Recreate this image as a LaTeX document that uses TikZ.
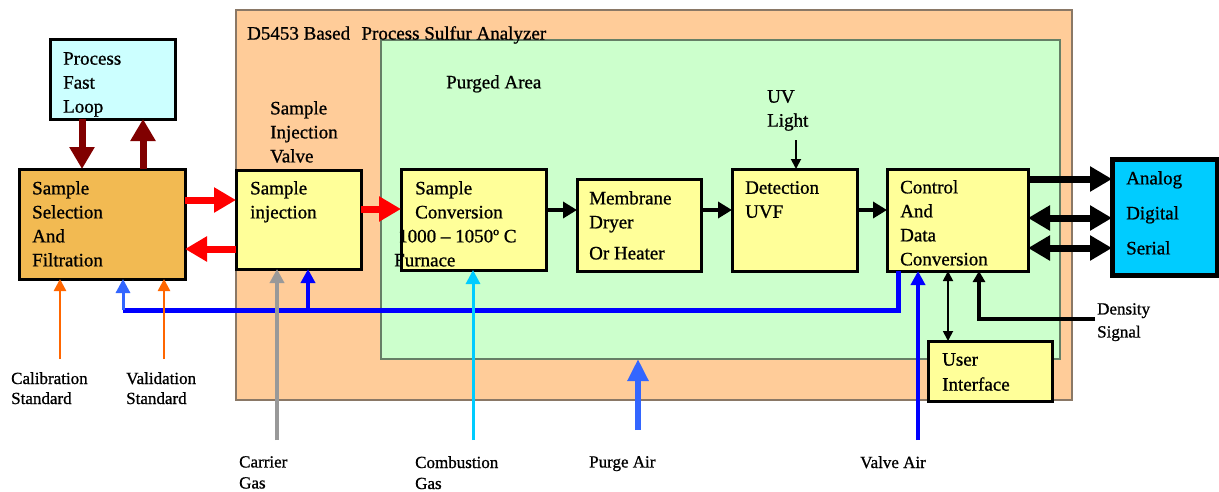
\documentclass[tikz,border=0pt]{standalone}
\usepackage{fontspec}
\setmainfont{Liberation Serif}[FakeBold=0.9]
\usetikzlibrary{arrows.meta}

\definecolor{analyzerbg}{HTML}{FFCC99}
\definecolor{analyzerline}{HTML}{8A7866}
\definecolor{purgebg}{HTML}{CCFFCC}
\definecolor{purgeline}{HTML}{667F66}
\definecolor{loopfill}{HTML}{CCFFFF}
\definecolor{selfill}{HTML}{F2BA52}
\definecolor{unitfill}{HTML}{FFFF99}
\definecolor{iofill}{HTML}{00CCFF}
\definecolor{darkred}{HTML}{800000}
\definecolor{calorange}{HTML}{FF6600}
\definecolor{lightblue}{HTML}{3366FF}
\definecolor{carriergray}{HTML}{999999}
\definecolor{combcyan}{HTML}{00CCFF}

\begin{document}
\begin{tikzpicture}[x=1pt,y=-1pt,
  box/.style={draw=black, line width=3pt, inner sep=0pt, outer sep=0pt, anchor=north west},
  txt/.style={anchor=north west, inner sep=0pt, align=left, font=\fontsize{19}{24}\selectfont},
  smalltxt/.style={anchor=north west, inner sep=0pt, align=left, font=\fontsize{17}{20}\selectfont},
  loopflow/.style={draw=darkred, line width=7pt, -{Triangle[length=22pt,width=24pt]}},
  sampleflow/.style={draw=red, line width=7pt, -{Triangle[length=22pt,width=24pt]}},
  gasflow/.style={draw=black, line width=4pt, -{Triangle[length=14pt,width=16pt]}},
  ioflow/.style={draw=black, line width=7pt, -{Triangle[length=22pt,width=24pt]}},
  iodouble/.style={draw=black, line width=7pt, {Triangle[length=22pt,width=24pt]}-{Triangle[length=22pt,width=24pt]}},
  thinflow/.style={draw=black, line width=1.8pt, -{Triangle[length=10pt,width=10pt]}},
  thindouble/.style={draw=black, line width=1.8pt, {Triangle[length=10pt,width=10pt]}-{Triangle[length=10pt,width=10pt]}},
  stdflow/.style={draw=calorange, line width=2.5pt, -{Triangle[length=12pt,width=12pt]}},
  airpipe/.style={draw=blue, line width=5pt},
  airflow/.style={draw=blue, line width=4pt, -{Triangle[length=14pt,width=14pt]}},
]
\useasboundingbox (0,0) rectangle (1219,491);

% enclosures
\node[anchor=north west, draw=analyzerline, line width=1.2pt, fill=analyzerbg,
      minimum width=836pt, minimum height=390pt, inner sep=0pt, outer sep=0pt] (analyzer) at (236,10) {};
\node[anchor=north west, draw=purgeline, line width=1.2pt, fill=purgebg,
      minimum width=679pt, minimum height=319pt, inner sep=0pt, outer sep=0pt] (purged) at (381,40) {};

% blocks
\node[box, fill=loopfill, minimum width=125pt, minimum height=80pt] (loop) at (50,39) {};
\node[box, fill=selfill, minimum width=166pt, minimum height=110pt] (sel) at (19,169) {};
\node[box, fill=unitfill, minimum width=125pt, minimum height=99pt] (inj) at (236,170) {};
\node[box, fill=unitfill, minimum width=145pt, minimum height=101pt] (conv) at (401,169) {};
\node[box, fill=unitfill, minimum width=124pt, minimum height=92pt] (mem) at (577,179) {};
\node[box, fill=unitfill, minimum width=125pt, minimum height=102pt] (det) at (732,169) {};
\node[box, fill=unitfill, minimum width=141pt, minimum height=102pt] (ctl) at (887,169) {};
\node[box, fill=iofill, line width=5pt, minimum width=105pt, minimum height=116pt] (io) at (1112,159) {};
\node[box, fill=unitfill, minimum width=124pt, minimum height=60pt] (ui) at (928,341) {};

% block texts
\node[txt] (looptxt) at (63,52) {Process\\Fast\\Loop};
\node[txt] (seltxt) at (32,181) {Sample\\Selection\\And\\Filtration};
\node[txt] (injtxt) at (250,181) {Sample\\injection};
\node[txt] (valvetxt) at (270,101) {Sample\\Injection\\Valve};
\node[txt] (convtxt) at (394,181) {\hspace*{21pt}Sample\\\hspace*{21pt}Conversion\\\hspace*{4pt}1000 – 1050º C\\Furnace};
\node[txt] (memtxt) at (589,191) {Membrane\\Dryer\\[7pt]Or Heater};
\node[txt] (dettxt) at (745,181) {Detection\\UVF};
\node[txt] (uvtxt) at (767,90) {UV\\Light};
\node[txt] (ctltxt) at (900,180) {Control\\And\\Data\\Conversion};
\node[txt] (iotxt) at (1126,171) {Analog\\[11pt]Digital\\[11pt]Serial};
\node[txt] (uitxt) at (942,353) {User\\[1pt]Interface};
\node[txt] (title) at (247,26) {D5453 Based\hspace{0.6em}Process Sulfur Analyzer};
\node[txt] (purgedtxt) at (446,75) {Purged Area};

% outside labels
\node[smalltxt] (densitytxt) at (1097,303) {Density\\[3pt]Signal};
\node[smalltxt] (caltxt) at (11,372) {Calibration\\Standard};
\node[smalltxt] (valtxt) at (126,372) {Validation\\Standard};
\node[smalltxt] (carriertxt) at (239,456) {Carrier\\[1pt]Gas};
\node[smalltxt] (combtxt) at (415,456) {Combustion\\[1pt]Gas};
\node[smalltxt] (purgetxt) at (589,456) {Purge Air};
\node[smalltxt] (valveairtxt) at (860,456) {Valve Air};

% free ends of the supply lines
\coordinate (uvsrc) at (796,140);
\coordinate (calsrc) at (60,359);
\coordinate (valsrc) at (164,359);
\coordinate (carriersrc) at (277,440);
\coordinate (combsrc) at (473,440);
\coordinate (purgesrc) at (638,430);
\coordinate (valvesrc) at (918,440);
\coordinate (densitysrc) at (1095,319);
\coordinate (airleft) at (123,310);
\coordinate (airinj) at (308,310);

% fast loop
\draw[loopflow] ([xshift=32pt]loop.south west) -- ([xshift=63pt]sel.north west);
\draw[loopflow] ([xshift=124pt]sel.north west) -- ([xshift=93pt]loop.south west);

% sample path
\draw[sampleflow] ([yshift=-31pt]sel.north east) -- ([yshift=-30pt]inj.north west);
\draw[sampleflow] ([yshift=-79pt]inj.north west) -- ([yshift=-80pt]sel.north east);
\draw[sampleflow] ([yshift=-39pt]inj.north east) -- ([yshift=-40pt]conv.north west);
\draw[gasflow] ([yshift=-41pt]conv.north east) -- ([yshift=-31pt]mem.north west);
\draw[gasflow] ([yshift=-31pt]mem.north east) -- ([yshift=-41pt]det.north west);
\draw[gasflow] ([yshift=-41pt]det.north east) -- ([yshift=-41pt]ctl.north west);
\draw[thinflow] (uvsrc) -- ([xshift=64pt]det.north west);

% outputs
\draw[ioflow] ([yshift=-10pt]ctl.north east) -- ([yshift=-20pt]io.north west);
\draw[iodouble] ([yshift=-49pt]ctl.north east) -- ([yshift=-59pt]io.north west);
\draw[iodouble] ([yshift=-79pt]ctl.north east) -- ([yshift=-89pt]io.north west);
\draw[thindouble] ([xshift=61pt]ctl.south west) -- ([xshift=20pt]ui.north west);
\draw[draw=black, line width=4pt, -{Triangle[length=11pt,width=12pt]}] (densitysrc) -| ([xshift=92pt]ctl.south west);

% valve actuation air
\draw[airpipe] ([xshift=11pt]ctl.south west) |- (airleft);
\draw[airflow] (airinj) -- ([xshift=72pt]inj.south west);
\draw[draw=lightblue, line width=3pt, -{Triangle[length=14pt,width=14pt]}] (airleft) -- ([xshift=104pt]sel.south west);
\draw[airflow, line width=3.5pt] (valvesrc) -- ([xshift=31pt]ctl.south west);

% standards and gases
\draw[stdflow] (calsrc) -- ([xshift=41pt]sel.south west);
\draw[stdflow] (valsrc) -- ([xshift=145pt]sel.south west);
\draw[draw=carriergray, line width=3.5pt, -{Triangle[length=14pt,width=14pt]}] (carriersrc) -- ([xshift=41pt]inj.south west);
\draw[draw=combcyan, line width=3pt, -{Triangle[length=14pt,width=14pt]}] (combsrc) -- ([xshift=72pt]conv.south west);
\draw[draw=lightblue, line width=6pt, -{Triangle[length=22pt,width=20pt]}] (purgesrc) -- ([xshift=257pt]purged.south west);
\end{tikzpicture}
\end{document}
